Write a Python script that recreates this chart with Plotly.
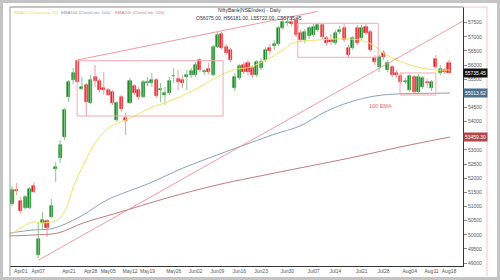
import plotly.graph_objects as go

# ---------------- data ----------------
open_ = [51090, 51602, 51195, 50948, 50948, 51726, 49286, 50417, 50488, 50630,
         52327, 52716, 53459, 54873, 55474, 56146, 55156, 55297, 54661, 55580,
         55439, 55191, 55121, 55050, 54060, 54873, 54131, 54661, 55262, 55121,
         54873, 55368, 55368, 55474, 55138, 54944, 55015, 55598, 55510, 55474,
         55580, 55651, 55651, 56181, 55757, 55863, 55651, 56641, 57100, 56641,
         56535, 55191, 55545, 56004, 56075, 55899, 55651, 55899, 56181, 56605,
         56676, 56747, 57313, 57490, 57525, 57596, 57136, 56888, 57030, 57065,
         57242, 57419, 56959, 56888, 56782, 57172, 57313, 56605, 56605, 57313,
         56959, 57348, 57172, 56252, 55934, 56429, 55828, 55934, 55722, 55616,
         55403, 55121, 55580, 55050, 55227, 55403, 55191, 56216, 55722, 55828,
         56075]
high = [51726, 51832, 51337, 51408, 51691, 51868, 50417, 50807, 50559, 51266,
        52575, 53353, 54484, 55474, 55899, 56181, 55580, 55368, 55651, 56004,
        55545, 55757, 55191, 55121, 54732, 54944, 54307, 55545, 55333, 55227,
        55474, 55580, 55722, 55545, 55368, 55227, 55580, 55899, 55828, 55651,
        55828, 55899, 56110, 56252, 55863, 56075, 56712, 57172, 57172, 56747,
        56605, 55722, 56040, 56110, 56181, 56004, 56181, 56252, 56641, 56747,
        56888, 57384, 57596, 57667, 57702, 57702, 57242, 57278, 57384, 57454,
        57490, 57490, 57030, 57100, 57242, 57384, 57454, 56712, 57030, 57419,
        57419, 57454, 57242, 56358, 56358, 56535, 56181, 56004, 55828, 55686,
        55545, 55686, 55651, 55686, 55616, 55510, 55474, 56358, 56004, 55899,
        56181]
low = [51019, 51408, 50736, 50913, 50913, 51479, 49180, 50170, 49923, 50595,
       51867, 52539, 53353, 54696, 55333, 55368, 55121, 54201, 54625, 55227,
       55015, 54944, 54908, 54590, 53989, 54343, 53529, 54625, 54944, 54767,
       54838, 55262, 55227, 54838, 54696, 54590, 54944, 55368, 55121, 55191,
       55121, 55545, 55580, 55757, 55651, 55686, 55616, 56605, 56535, 56358,
       56110, 55085, 55474, 55686, 55651, 55545, 55580, 55828, 56110, 56358,
       56535, 56676, 57242, 57384, 57348, 56995, 56818, 56782, 56924, 56995,
       57172, 56924, 56676, 56712, 56712, 57100, 56818, 56287, 56535, 56712,
       56888, 57065, 56464, 56004, 55757, 56181, 55757, 55580, 55545, 55333,
       55333, 55050, 54979, 54979, 55156, 55191, 55085, 55863, 55651, 55686,
       55722]
close = [51585, 51560, 50842, 51337, 51620, 51514, 49852, 50524, 50241, 51019,
         52398, 53176, 54413, 55403, 55722, 55403, 55227, 54696, 55474, 55439,
         55121, 55121, 54944, 54661, 54661, 54449, 54025, 55439, 55015, 54873,
         55403, 55403, 55474, 54908, 55170, 55015, 55439, 55630, 55403, 55368,
         55651, 55793, 56004, 55828, 55790, 55757, 56641, 57065, 56605, 56429,
         56181, 55580, 55969, 55757, 55757, 55651, 56110, 56110, 56535, 56500,
         56747, 57313, 57525, 57540, 57454, 57065, 56888, 57172, 57313, 57348,
         57419, 56995, 56782, 56818, 57136, 57242, 56888, 56358, 56959, 56782,
         57313, 57136, 56535, 56110, 56287, 56287, 56075, 55651, 55651, 55403,
         55439, 55616, 55050, 55580, 55545, 55368, 55403, 55934, 55863, 55757,
         55735.45]

tick_idx = [2, 6, 13, 18, 22, 27, 31, 37, 42, 47, 52, 57, 63, 69, 74, 80, 85, 91, 96, 100]
tick_text = ["Apr01", "Apr07", "Apr21", "Apr28", "May05", "May12", "May19", "May26",
             "Jun02", "Jun09", "Jun16", "Jun23", "Jun30", "Jul07", "Jul14", "Jul21",
             "Jul28", "Aug04", "Aug11", "Aug18"]

price_ticks = list(range(49000, 58000, 500))
hidden_price_ticks = [55000, 53500]   # covered by the value boxes in the reference

ema20_x = [-0.46, 4.8, 7.1, 11, 14.4, 17.2, 19.5, 22.4, 27.7, 31.6, 36.8, 43, 46.9,
           50.6, 54.5, 59, 62, 64.3, 69.8, 74.4, 79.6, 82.6, 84.9, 88.1, 92.7, 96.8, 100.2]
ema20_y = [49993, 50453, 50417, 50594, 51832, 52751, 53353, 53812, 54166, 54484,
           54767, 55227, 55580, 55828, 55934, 56252, 56535, 56782, 56888, 56924,
           56888, 56712, 56429, 56181, 55934, 55828, 55828]
ema100_x = [-0.46, 4.81, 8.70, 11.67, 16.25, 21.74, 31.58, 39.13, 46.91, 54.46,
            60.18, 65.90, 71.62, 77.35, 83.07, 88.79, 94.51, 100.23]
ema100_y = [50064, 50170, 50205, 50347, 50700, 51231, 51832, 52362, 52822, 53246,
            53565, 53848, 54343, 54696, 54908, 54985, 55000, 55013.62]
ema200_x = [-0.46, 4.81, 10.53, 16.25, 24.03, 35.47, 46.91, 54.46, 65.90, 77.35, 88.79, 100.23]
ema200_y = [49958, 49993, 50064, 50417, 50771, 51302, 51762, 52009, 52363, 52716, 53105, 53459.30]

# trend lines (index, price)
trend_upper_x = [14.9, 70.0]
trend_upper_y = [56181, 57900]
trend_lower_x = [6.0, 103.2]
trend_lower_y = [49100, 57557]

# consolidation boxes: x0, x1, y0, y1
box_x0 = [14.9, 65.4, 88.8]
box_x1 = [48.3, 83.8, 97.0]
box_y0 = [54201, 56277, 54943]
box_y1 = [56157, 57479, 55722]

ema_note_x = [84.4]
ema_note_y = [54557]
ema_note_text = ["100 EMA"]

title_text = "NiftyBank(NSEIndex) - Daily"

# ---------------- styles ----------------
UP_BODY, UP_WICK = "#1f8b2c", "#86c886"
DN_BODY, DN_WICK = "#e3262e", "#f29a9a"
C_EMA20, C_EMA100, C_EMA200 = "#efe663", "#8ba3b7", "#c27a80"
C_TREND, C_BOX = "#f08088", "#f4a9b0"
FONT = "Liberation Sans, Arial, sans-serif"

fig = go.Figure()

n = len(close)
idx = list(range(n))
up = [i for i in idx if close[i] >= open_[i]]
dn = [i for i in idx if close[i] < open_[i]]

def wick_xy(sel):
    xs, ys = [], []
    for i in sel:
        xs += [i, i, None]
        ys += [low[i], high[i], None]
    return xs, ys

for sel, wc in ((up, UP_WICK), (dn, DN_WICK)):
    wx, wy = wick_xy(sel)
    fig.add_trace(go.Scatter(x=wx, y=wy, mode="lines", line=dict(color=wc, width=1),
                             hoverinfo="skip", showlegend=False))
for sel, bc in ((up, UP_BODY), (dn, DN_BODY)):
    fig.add_trace(go.Bar(x=sel, y=[close[i] - open_[i] for i in sel], base=[open_[i] for i in sel],
                         width=0.7, marker=dict(color=bc, line=dict(color=bc, width=0.6)),
                         showlegend=False))

# EMAs
fig.add_trace(go.Scatter(x=ema200_x, y=ema200_y, mode="lines", line=dict(color=C_EMA200, width=1, shape="spline"), showlegend=False))
fig.add_trace(go.Scatter(x=ema100_x, y=ema100_y, mode="lines", line=dict(color=C_EMA100, width=1, shape="spline"), showlegend=False))
fig.add_trace(go.Scatter(x=ema20_x, y=ema20_y, mode="lines", line=dict(color=C_EMA20, width=1, shape="spline"), showlegend=False))

# trend lines
fig.add_trace(go.Scatter(x=trend_upper_x, y=trend_upper_y, mode="lines", line=dict(color=C_TREND, width=0.8), showlegend=False))
fig.add_trace(go.Scatter(x=trend_lower_x, y=trend_lower_y, mode="lines", line=dict(color=C_TREND, width=0.8), showlegend=False))

shapes = []
for x0, x1, y0, y1 in zip(box_x0, box_x1, box_y0, box_y1):
    shapes.append(dict(type="rect", xref="x", yref="y", x0=x0, x1=x1, y0=y0, y1=y1,
                       line=dict(color=C_BOX, width=1), fillcolor="rgba(0,0,0,0)"))

# frame (pixel -> paper conversion for plot area 10..463 x 7..266)
def px(X):
    return (X - 10) / 453.0
def py(Y):
    return (266 - Y) / 259.0

shapes += [
    dict(type="rect", xref="paper", yref="paper", x0=px(1.5), x1=px(498.5), y0=py(278.5), y1=py(1.5),
         line=dict(color="#c4c4c4", width=3)),
    dict(type="line", xref="paper", yref="paper", x0=px(10), x1=px(463), y0=py(7), y1=py(7),
         line=dict(color="#8a8a8a", width=1)),
    dict(type="line", xref="paper", yref="paper", x0=px(10), x1=px(10), y0=py(7), y1=py(276),
         line=dict(color="#9a9a9a", width=1)),
    dict(type="line", xref="paper", yref="paper", x0=px(487), x1=px(487), y0=py(7), y1=py(276),
         line=dict(color="#f4c4cc", width=1)),
    dict(type="line", xref="paper", yref="paper", x0=px(463), x1=px(487), y0=py(7), y1=py(7),
         line=dict(color="#f4c4cc", width=1)),
]

annotations = []
# legend-like texts
for X, txt, col in ((12, "EMA20 (CloseLine, 20)", "#e3db3c"),
                    (59, "EMA100 (CloseLine, 100)", "#7e98ad"),
                    (113, "EMA200 (CloseLine, 200)", "#d07880")):
    annotations.append(dict(xref="paper", yref="paper", x=px(X), y=py(13), text=txt,
                            showarrow=False, xanchor="left", yanchor="middle",
                            font=dict(size=4.3, color=col, family=FONT)))
# title
annotations.append(dict(xref="paper", yref="paper", x=px(249), y=py(10), text=title_text,
                        showarrow=False, xanchor="center", yanchor="middle",
                        font=dict(size=5, color="#333333", family=FONT)))
ohlc_text = "O%.2f, H%.2f, L%.2f, C%.2f" % (open_[-1], high[-1], low[-1], close[-1])
annotations.append(dict(xref="paper", yref="paper", x=px(249), y=py(18), text=ohlc_text,
                        showarrow=False, xanchor="center", yanchor="middle",
                        font=dict(size=5, color="#333333", family=FONT)))
# 100 EMA note
for xx, yy, tt in zip(ema_note_x, ema_note_y, ema_note_text):
    annotations.append(dict(x=xx, y=yy, text=tt, showarrow=False, xanchor="center", yanchor="middle",
                            font=dict(size=5.5, color="#e06a6a", family=FONT)))
# price boxes on the axis
for val, bg in ((close[-1], "#111111"), (ema100_y[-1], "#4b6f8c"), (ema200_y[-1], "#b0474c")):
    annotations.append(dict(xref="paper", yref="y", x=px(463.5), y=val, text="%.2f" % val,
                            showarrow=False, xanchor="left", yanchor="middle", bgcolor=bg,
                            borderpad=1, font=dict(size=5, color="#ffffff", family=FONT)))

fig.update_layout(
    width=500, height=280, autosize=False,
    margin=dict(l=10, r=37, t=7, b=14),
    paper_bgcolor="white", plot_bgcolor="white",
    barmode="overlay", bargap=0,
    showlegend=False,
    shapes=shapes, annotations=annotations,
    xaxis=dict(range=[-0.46, 103.2], showgrid=False, zeroline=False,
               tickmode="array", tickvals=tick_idx, ticktext=tick_text,
               tickfont=dict(size=5, color="#555555", family=FONT),
               showline=True, linecolor="#333333", linewidth=1,
               ticks="", ticklen=0, fixedrange=True),
    yaxis=dict(range=[48897, 58055], side="right", showgrid=False, zeroline=False,
               tickmode="array", tickvals=price_ticks,
               ticktext=["" if v in hidden_price_ticks else str(v) for v in price_ticks],
               tickfont=dict(size=5, color="#555555", family=FONT),
               showline=True, linecolor="#333333", linewidth=1,
               ticks="outside", ticklen=3, tickcolor="#888888", fixedrange=True),
)

fig.write_html("out.html")
